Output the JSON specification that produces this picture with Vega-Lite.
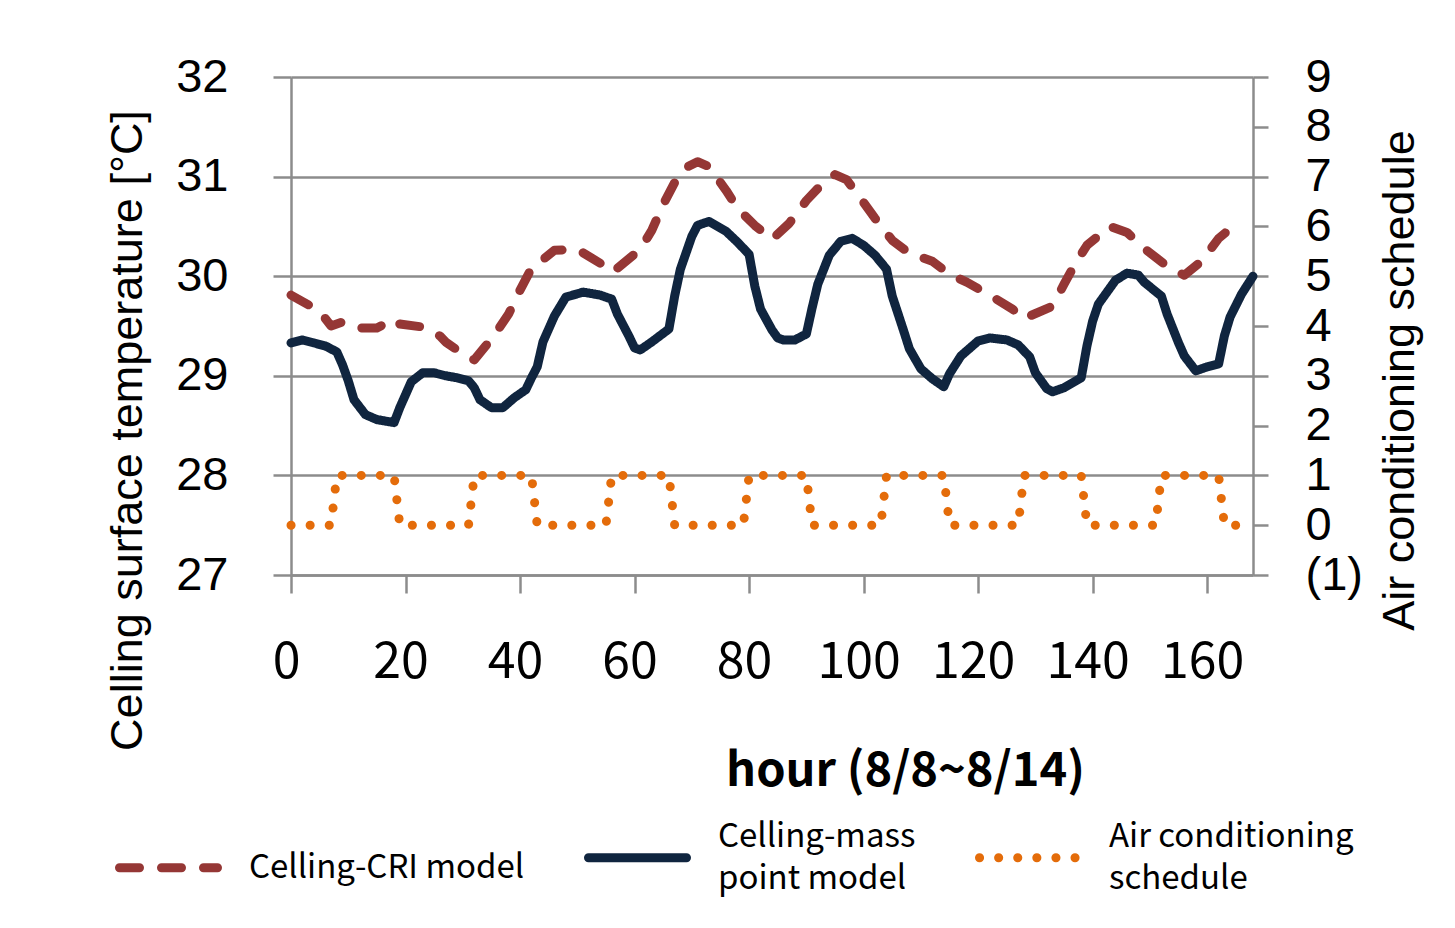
{
  "$schema": "https://vega.github.io/schema/vega-lite/v6.json",
  "width": 962,
  "height": 498,
  "autosize": "none",
  "padding": {"left": 291, "top": 77, "right": 202, "bottom": 353},
  "background": "white",
  "config": {"view": {"stroke": null}, "font": "Liberation Sans"},
  "datasets": {
    "temp": [
      {"h": 0, "series": "Celling-CRI model", "v": 29.81},
      {"h": 5, "series": "Celling-CRI model", "v": 29.65},
      {"h": 7, "series": "Celling-CRI model", "v": 29.5},
      {"h": 9, "series": "Celling-CRI model", "v": 29.54},
      {"h": 12, "series": "Celling-CRI model", "v": 29.48},
      {"h": 15, "series": "Celling-CRI model", "v": 29.48},
      {"h": 18, "series": "Celling-CRI model", "v": 29.57},
      {"h": 19, "series": "Celling-CRI model", "v": 29.52},
      {"h": 23, "series": "Celling-CRI model", "v": 29.49},
      {"h": 26, "series": "Celling-CRI model", "v": 29.4},
      {"h": 27, "series": "Celling-CRI model", "v": 29.34},
      {"h": 30, "series": "Celling-CRI model", "v": 29.22},
      {"h": 32, "series": "Celling-CRI model", "v": 29.16},
      {"h": 34, "series": "Celling-CRI model", "v": 29.3},
      {"h": 36, "series": "Celling-CRI model", "v": 29.45},
      {"h": 38, "series": "Celling-CRI model", "v": 29.62},
      {"h": 40, "series": "Celling-CRI model", "v": 29.86},
      {"h": 42, "series": "Celling-CRI model", "v": 30.08},
      {"h": 43, "series": "Celling-CRI model", "v": 30.12},
      {"h": 46, "series": "Celling-CRI model", "v": 30.26},
      {"h": 50, "series": "Celling-CRI model", "v": 30.27},
      {"h": 54, "series": "Celling-CRI model", "v": 30.13},
      {"h": 56, "series": "Celling-CRI model", "v": 30.04},
      {"h": 57, "series": "Celling-CRI model", "v": 30.08},
      {"h": 61, "series": "Celling-CRI model", "v": 30.27},
      {"h": 63, "series": "Celling-CRI model", "v": 30.46},
      {"h": 65, "series": "Celling-CRI model", "v": 30.72},
      {"h": 67, "series": "Celling-CRI model", "v": 30.94},
      {"h": 69, "series": "Celling-CRI model", "v": 31.09},
      {"h": 71, "series": "Celling-CRI model", "v": 31.15},
      {"h": 73, "series": "Celling-CRI model", "v": 31.1},
      {"h": 76, "series": "Celling-CRI model", "v": 30.86},
      {"h": 78, "series": "Celling-CRI model", "v": 30.68},
      {"h": 81, "series": "Celling-CRI model", "v": 30.51},
      {"h": 84, "series": "Celling-CRI model", "v": 30.37},
      {"h": 87, "series": "Celling-CRI model", "v": 30.53},
      {"h": 90, "series": "Celling-CRI model", "v": 30.76},
      {"h": 93, "series": "Celling-CRI model", "v": 30.94},
      {"h": 95, "series": "Celling-CRI model", "v": 31.02},
      {"h": 97, "series": "Celling-CRI model", "v": 30.97},
      {"h": 99, "series": "Celling-CRI model", "v": 30.82},
      {"h": 102, "series": "Celling-CRI model", "v": 30.58},
      {"h": 105, "series": "Celling-CRI model", "v": 30.36},
      {"h": 108, "series": "Celling-CRI model", "v": 30.23},
      {"h": 112, "series": "Celling-CRI model", "v": 30.15},
      {"h": 115, "series": "Celling-CRI model", "v": 30.02},
      {"h": 118, "series": "Celling-CRI model", "v": 29.94},
      {"h": 122, "series": "Celling-CRI model", "v": 29.81},
      {"h": 126, "series": "Celling-CRI model", "v": 29.67},
      {"h": 128, "series": "Celling-CRI model", "v": 29.57},
      {"h": 129, "series": "Celling-CRI model", "v": 29.6},
      {"h": 133, "series": "Celling-CRI model", "v": 29.7},
      {"h": 135, "series": "Celling-CRI model", "v": 29.92},
      {"h": 137, "series": "Celling-CRI model", "v": 30.13},
      {"h": 139, "series": "Celling-CRI model", "v": 30.31},
      {"h": 143, "series": "Celling-CRI model", "v": 30.5},
      {"h": 146, "series": "Celling-CRI model", "v": 30.44},
      {"h": 149, "series": "Celling-CRI model", "v": 30.28},
      {"h": 153, "series": "Celling-CRI model", "v": 30.1},
      {"h": 156, "series": "Celling-CRI model", "v": 30.01},
      {"h": 159, "series": "Celling-CRI model", "v": 30.15},
      {"h": 162, "series": "Celling-CRI model", "v": 30.38},
      {"h": 166, "series": "Celling-CRI model", "v": 30.57},
      {"h": 0, "series": "Celling-mass point model", "v": 29.33},
      {"h": 2, "series": "Celling-mass point model", "v": 29.36},
      {"h": 4, "series": "Celling-mass point model", "v": 29.33},
      {"h": 6, "series": "Celling-mass point model", "v": 29.3},
      {"h": 8, "series": "Celling-mass point model", "v": 29.24},
      {"h": 9, "series": "Celling-mass point model", "v": 29.11},
      {"h": 10, "series": "Celling-mass point model", "v": 28.95},
      {"h": 11, "series": "Celling-mass point model", "v": 28.76},
      {"h": 13, "series": "Celling-mass point model", "v": 28.61},
      {"h": 15, "series": "Celling-mass point model", "v": 28.56},
      {"h": 16, "series": "Celling-mass point model", "v": 28.55},
      {"h": 18, "series": "Celling-mass point model", "v": 28.53},
      {"h": 19, "series": "Celling-mass point model", "v": 28.68},
      {"h": 20, "series": "Celling-mass point model", "v": 28.81},
      {"h": 21, "series": "Celling-mass point model", "v": 28.94},
      {"h": 23, "series": "Celling-mass point model", "v": 29.03},
      {"h": 25, "series": "Celling-mass point model", "v": 29.03},
      {"h": 27, "series": "Celling-mass point model", "v": 29.0},
      {"h": 29, "series": "Celling-mass point model", "v": 28.98},
      {"h": 31, "series": "Celling-mass point model", "v": 28.95},
      {"h": 32, "series": "Celling-mass point model", "v": 28.88},
      {"h": 33, "series": "Celling-mass point model", "v": 28.76},
      {"h": 35, "series": "Celling-mass point model", "v": 28.68},
      {"h": 37, "series": "Celling-mass point model", "v": 28.68},
      {"h": 39, "series": "Celling-mass point model", "v": 28.78},
      {"h": 41, "series": "Celling-mass point model", "v": 28.86},
      {"h": 42, "series": "Celling-mass point model", "v": 28.98},
      {"h": 43, "series": "Celling-mass point model", "v": 29.09},
      {"h": 44, "series": "Celling-mass point model", "v": 29.34},
      {"h": 46, "series": "Celling-mass point model", "v": 29.6},
      {"h": 48, "series": "Celling-mass point model", "v": 29.79},
      {"h": 51, "series": "Celling-mass point model", "v": 29.84},
      {"h": 54, "series": "Celling-mass point model", "v": 29.81},
      {"h": 56, "series": "Celling-mass point model", "v": 29.77},
      {"h": 57, "series": "Celling-mass point model", "v": 29.62},
      {"h": 59, "series": "Celling-mass point model", "v": 29.4},
      {"h": 60, "series": "Celling-mass point model", "v": 29.28},
      {"h": 61, "series": "Celling-mass point model", "v": 29.26},
      {"h": 63, "series": "Celling-mass point model", "v": 29.34},
      {"h": 66, "series": "Celling-mass point model", "v": 29.47},
      {"h": 67, "series": "Celling-mass point model", "v": 29.8},
      {"h": 68, "series": "Celling-mass point model", "v": 30.07},
      {"h": 70, "series": "Celling-mass point model", "v": 30.4},
      {"h": 71, "series": "Celling-mass point model", "v": 30.51},
      {"h": 73, "series": "Celling-mass point model", "v": 30.55},
      {"h": 76, "series": "Celling-mass point model", "v": 30.45},
      {"h": 78, "series": "Celling-mass point model", "v": 30.34},
      {"h": 80, "series": "Celling-mass point model", "v": 30.22},
      {"h": 81, "series": "Celling-mass point model", "v": 29.9},
      {"h": 82, "series": "Celling-mass point model", "v": 29.67},
      {"h": 84, "series": "Celling-mass point model", "v": 29.46},
      {"h": 85, "series": "Celling-mass point model", "v": 29.38},
      {"h": 86, "series": "Celling-mass point model", "v": 29.36},
      {"h": 88, "series": "Celling-mass point model", "v": 29.36},
      {"h": 90, "series": "Celling-mass point model", "v": 29.42},
      {"h": 91, "series": "Celling-mass point model", "v": 29.68},
      {"h": 92, "series": "Celling-mass point model", "v": 29.92},
      {"h": 94, "series": "Celling-mass point model", "v": 30.21},
      {"h": 96, "series": "Celling-mass point model", "v": 30.35},
      {"h": 98, "series": "Celling-mass point model", "v": 30.38},
      {"h": 100, "series": "Celling-mass point model", "v": 30.31},
      {"h": 102, "series": "Celling-mass point model", "v": 30.21},
      {"h": 104, "series": "Celling-mass point model", "v": 30.07},
      {"h": 105, "series": "Celling-mass point model", "v": 29.8},
      {"h": 107, "series": "Celling-mass point model", "v": 29.45},
      {"h": 108, "series": "Celling-mass point model", "v": 29.27},
      {"h": 110, "series": "Celling-mass point model", "v": 29.07},
      {"h": 112, "series": "Celling-mass point model", "v": 28.97},
      {"h": 114, "series": "Celling-mass point model", "v": 28.89},
      {"h": 115, "series": "Celling-mass point model", "v": 29.02},
      {"h": 117, "series": "Celling-mass point model", "v": 29.2},
      {"h": 120, "series": "Celling-mass point model", "v": 29.35},
      {"h": 122, "series": "Celling-mass point model", "v": 29.38},
      {"h": 125, "series": "Celling-mass point model", "v": 29.36},
      {"h": 127, "series": "Celling-mass point model", "v": 29.31},
      {"h": 129, "series": "Celling-mass point model", "v": 29.19},
      {"h": 130, "series": "Celling-mass point model", "v": 29.03},
      {"h": 132, "series": "Celling-mass point model", "v": 28.87},
      {"h": 133, "series": "Celling-mass point model", "v": 28.84},
      {"h": 135, "series": "Celling-mass point model", "v": 28.88},
      {"h": 138, "series": "Celling-mass point model", "v": 28.98},
      {"h": 139, "series": "Celling-mass point model", "v": 29.3},
      {"h": 140, "series": "Celling-mass point model", "v": 29.55},
      {"h": 141, "series": "Celling-mass point model", "v": 29.72},
      {"h": 144, "series": "Celling-mass point model", "v": 29.96},
      {"h": 146, "series": "Celling-mass point model", "v": 30.03},
      {"h": 148, "series": "Celling-mass point model", "v": 30.01},
      {"h": 149, "series": "Celling-mass point model", "v": 29.94},
      {"h": 152, "series": "Celling-mass point model", "v": 29.8},
      {"h": 153, "series": "Celling-mass point model", "v": 29.62},
      {"h": 155, "series": "Celling-mass point model", "v": 29.33},
      {"h": 156, "series": "Celling-mass point model", "v": 29.2},
      {"h": 158, "series": "Celling-mass point model", "v": 29.05},
      {"h": 160, "series": "Celling-mass point model", "v": 29.09},
      {"h": 162, "series": "Celling-mass point model", "v": 29.12},
      {"h": 163, "series": "Celling-mass point model", "v": 29.4},
      {"h": 164, "series": "Celling-mass point model", "v": 29.59},
      {"h": 166, "series": "Celling-mass point model", "v": 29.82},
      {"h": 168, "series": "Celling-mass point model", "v": 30.0}
    ],
    "sched": [
      {"h": 0, "series": "Air conditioning schedule", "v": 0},
      {"h": 7, "series": "Air conditioning schedule", "v": 0},
      {"h": 8, "series": "Air conditioning schedule", "v": 1},
      {"h": 18, "series": "Air conditioning schedule", "v": 1},
      {"h": 19, "series": "Air conditioning schedule", "v": 0},
      {"h": 31, "series": "Air conditioning schedule", "v": 0},
      {"h": 32, "series": "Air conditioning schedule", "v": 1},
      {"h": 42, "series": "Air conditioning schedule", "v": 1},
      {"h": 43, "series": "Air conditioning schedule", "v": 0},
      {"h": 55, "series": "Air conditioning schedule", "v": 0},
      {"h": 56, "series": "Air conditioning schedule", "v": 1},
      {"h": 66, "series": "Air conditioning schedule", "v": 1},
      {"h": 67, "series": "Air conditioning schedule", "v": 0},
      {"h": 79, "series": "Air conditioning schedule", "v": 0},
      {"h": 80, "series": "Air conditioning schedule", "v": 1},
      {"h": 90, "series": "Air conditioning schedule", "v": 1},
      {"h": 91, "series": "Air conditioning schedule", "v": 0},
      {"h": 103, "series": "Air conditioning schedule", "v": 0},
      {"h": 104, "series": "Air conditioning schedule", "v": 1},
      {"h": 114, "series": "Air conditioning schedule", "v": 1},
      {"h": 115, "series": "Air conditioning schedule", "v": 0},
      {"h": 127, "series": "Air conditioning schedule", "v": 0},
      {"h": 128, "series": "Air conditioning schedule", "v": 1},
      {"h": 138, "series": "Air conditioning schedule", "v": 1},
      {"h": 139, "series": "Air conditioning schedule", "v": 0},
      {"h": 151, "series": "Air conditioning schedule", "v": 0},
      {"h": 152, "series": "Air conditioning schedule", "v": 1},
      {"h": 162, "series": "Air conditioning schedule", "v": 1},
      {"h": 163, "series": "Air conditioning schedule", "v": 0},
      {"h": 168, "series": "Air conditioning schedule", "v": 0}
    ]
  },
  "layer": [
    {
      "data": {"name": "temp"},
      "mark": {"type": "line", "strokeWidth": 9, "strokeCap": "round", "strokeJoin": "round"},
      "encoding": {
        "x": {
          "field": "h", "type": "quantitative",
          "scale": {"domain": [0, 168], "nice": false, "zero": false},
          "axis": {
            "values": [0, 20, 40, 60, 80, 100, 120, 140, 160],
            "grid": false, "labelFlush": false,
            "domainColor": "#8c8c8c", "domainWidth": 2.5,
            "tickColor": "#8c8c8c", "tickWidth": 2.5, "tickSize": 18,
            "labelFont": "Noto Sans CJK JP", "labelFontSize": 50, "labelColor": "#000",
            "labelPadding": 44, "labelOffset": -5,
            "title": "hour (8/8~8/14)",
            "titleFont": "Noto Sans CJK JP", "titleFontSize": 47, "titleFontWeight": "bold", "titleColor": "#000",
            "titleX": 614, "titleY": 210, "titleBaseline": "alphabetic", "titleAlign": "center"
          }
        },
        "y": {
          "field": "v", "type": "quantitative",
          "scale": {"domain": [27, 32], "nice": false, "zero": false},
          "axis": {
            "values": [27, 28, 29, 30, 31, 32],
            "grid": true, "gridColor": "#8c8c8c", "gridWidth": 2.5,
            "domainColor": "#8c8c8c", "domainWidth": 2.5,
            "tickColor": "#8c8c8c", "tickWidth": 2.5, "tickSize": 18,
            "labelFontSize": 47, "labelColor": "#000", "labelPadding": 45,
            "title": "Celling surface temperature [°C]",
            "titleFontSize": 45, "titleFontWeight": "normal", "titleColor": "#000",
            "titleAngle": -90, "titleX": -150, "titleY": 353, "titleAlign": "center", "titleBaseline": "alphabetic"
          }
        },
        "color": {
          "field": "series", "type": "nominal",
          "scale": {
            "domain": ["Celling-CRI model", "Celling-mass point model", "Air conditioning schedule"],
            "range": ["#953735", "#10253F", "#E46C0A"]
          },
          "legend": {
            "title": null,
            "orient": "none", "legendX": -176, "legendY": 727,
            "direction": "horizontal", "columns": 3,
            "symbolType": "stroke", "symbolSize": 9604, "symbolStrokeWidth": 9,
            "labelFont": "Noto Sans CJK JP", "labelFontSize": 33, "labelColor": "#000",
            "labelLimit": 500, "labelOffset": 27, "columnPadding": 45, "padding": 0,
            "labelExpr": "datum.label == 'Celling-mass point model' ? ['Celling-mass', 'point model'] : datum.label == 'Air conditioning schedule' ? ['Air conditioning', 'schedule'] : datum.label",
            "encoding": {
              "symbols": {"strokeCap": {"value": "round"}},
              "labels": {
                "lineHeight": {"value": 42},
                "dy": {"condition": {"test": "datum.value == 'Celling-CRI model'", "value": 0}, "value": -21}
              }
            }
          }
        },
        "strokeDash": {
          "field": "series", "type": "nominal",
          "scale": {
            "domain": ["Celling-CRI model", "Celling-mass point model", "Air conditioning schedule"],
            "range": [[20, 22], [1, 0], [0.1, 19]]
          },
          "legend": null
        }
      }
    },
    {
      "data": {"name": "sched"},
      "mark": {"type": "line", "strokeWidth": 9, "strokeCap": "round", "strokeJoin": "round"},
      "encoding": {
        "x": {"field": "h", "type": "quantitative"},
        "y": {
          "field": "v", "type": "quantitative",
          "scale": {"domain": [-1, 9], "nice": false, "zero": false},
          "axis": {
            "orient": "right",
            "values": [-1, 0, 1, 2, 3, 4, 5, 6, 7, 8, 9],
            "grid": false,
            "domainColor": "#8c8c8c", "domainWidth": 2.5,
            "tickColor": "#8c8c8c", "tickWidth": 2.5, "tickSize": 15,
            "labelFontSize": 47, "labelColor": "#000", "labelPadding": 37,
            "labelExpr": "datum.value < 0 ? '(' + abs(datum.value) + ')' : datum.label",
            "title": "Air conditioning schedule",
            "titleFontSize": 45, "titleFontWeight": "normal", "titleColor": "#000",
            "titleAngle": -90, "titleX": 160, "titleY": 303, "titleAlign": "center", "titleBaseline": "alphabetic"
          }
        },
        "color": {"field": "series", "type": "nominal"},
        "strokeDash": {"field": "series", "type": "nominal"}
      }
    }
  ],
  "resolve": {"scale": {"y": "independent"}}
}
